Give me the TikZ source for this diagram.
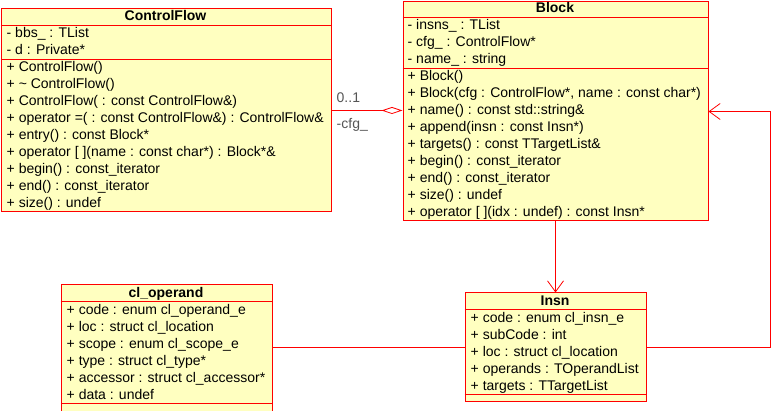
\documentclass[tikz,border=0pt]{standalone}
\usepackage{fontspec}
\setmainfont{Liberation Sans}
\usetikzlibrary{arrows.meta}
\definecolor{umlfill}{HTML}{FFFFC0}
\definecolor{umlred}{HTML}{FF0000}
\definecolor{lblgray}{HTML}{555555}
\tikzset{
  classbox/.style={draw=umlred, fill=umlfill, line width=1pt, rectangle, inner sep=0pt, anchor=north west},
  sepline/.style={draw=umlred, line width=1pt},
  member/.style={anchor=base west, inner sep=0pt, font=\fontsize{14}{16}\selectfont},
  ctitle/.style={anchor=base, inner sep=0pt, font=\fontsize{14}{16}\selectfont\bfseries},
  conn/.style={color=umlred, line width=1pt},
  lbl/.style={anchor=base west, inner sep=0pt, text=lblgray, font=\fontsize{14}{16}\selectfont},
  barb/.style={-{Straight Barb[length=11pt, width=16pt, line width=0.8pt]}}
}
\begin{document}
\begin{tikzpicture}[x=1pt,y=-1pt]
\useasboundingbox (0,0) rectangle (771,411);
\begin{scope}[shift={(0.5pt,-0.5pt)}]
% ControlFlow
\node[classbox, minimum width=330pt, minimum height=203pt] (cf) at (0,8) {};
\draw[sepline] (cf.west |- 0,25) -- (cf.east |- 0,25);
\draw[sepline] (cf.west |- 0,59) -- (cf.east |- 0,59);
\node[ctitle] (cft) at (165,20) {ControlFlow};
\foreach [count=\i] \t in {{- bbs\_ : TList},{- d : Private*},{+ ControlFlow()},{+ \textasciitilde{} ControlFlow()},{+ ControlFlow( : const ControlFlow\&)},{+ operator =( : const ControlFlow\&) : ControlFlow\&},{+ entry() : const Block*},{+ operator [ ](name : const char*) : Block*\&},{+ begin() : const\_iterator},{+ end() : const\_iterator},{+ size() : undef}}
  \node[member] (cfm\i) at (6,{37+17*(\i-1)}) {\t};

% Block
\node[classbox, minimum width=305pt, minimum height=219pt] (block) at (402,1) {};
\draw[sepline] (block.west |- 0,17) -- (block.east |- 0,17);
\draw[sepline] (block.west |- 0,68) -- (block.east |- 0,68);
\node[ctitle] (blockt) at (554.5,12) {Block};
\foreach [count=\i] \t in {{- insns\_ : TList},{- cfg\_ : ControlFlow*},{- name\_ : string},{+ Block()},{+ Block(cfg : ControlFlow*, name : const char*)},{+ name() : const std::string\&},{+ append(insn : const Insn*)},{+ targets() : const TTargetList\&},{+ begin() : const\_iterator},{+ end() : const\_iterator},{+ size() : undef},{+ operator [ ](idx : undef) : const Insn*}}
  \node[member] (blockm\i) at (407,{29+17*(\i-1)}) {\t};

% Insn
\node[classbox, minimum width=181pt, minimum height=109pt] (insn) at (464,292) {};
\draw[sepline] (insn.west |- 0,309) -- (insn.east |- 0,309);
\draw[sepline] (insn.west |- 0,394) -- (insn.east |- 0,394);
\node[ctitle] (insnt) at (554.5,305) {Insn};
\foreach [count=\i] \t in {{+ code : enum cl\_insn\_e},{+ subCode : int},{+ loc : struct cl\_location},{+ operands : TOperandList},{+ targets : TTargetList}}
  \node[member] (insnm\i) at (470,{322+17*(\i-1)}) {\t};

% cl_operand
\node[classbox, minimum width=211pt, minimum height=126pt] (clop) at (60,284) {};
\draw[sepline] (clop.west |- 0,301) -- (clop.east |- 0,301);
\draw[sepline] (clop.west |- 0,403) -- (clop.east |- 0,403);
\node[ctitle] (clopt) at (165.5,297) {cl\_operand};
\foreach [count=\i] \t in {{+ code : enum cl\_operand\_e},{+ loc : struct cl\_location},{+ scope : enum cl\_scope\_e},{+ type : struct cl\_type*},{+ accessor : struct cl\_accessor*},{+ data : undef}}
  \node[member] (clopm\i) at (66,{314+17*(\i-1)}) {\t};

% connectors
\draw[conn] (clop.east) -- (clop.east -| insn.west);
\draw[conn, -{Diamond[open, fill=white, length=21pt, width=7pt, line width=0.8pt]}] (cf.east) -- (cf.east -| block.west);
\node[lbl] (mult) at (336,102) {0..1};
\node[lbl] (role) at (336,128) {-cfg\_};
\coordinate (corner) at (770,347);
\draw[conn, barb] (insn.east) -- (insn.east -| corner) |- (block.east);
\draw[conn, barb] (block.south) -- (block.south |- insn.north);
\end{scope}
\end{tikzpicture}
\end{document}
